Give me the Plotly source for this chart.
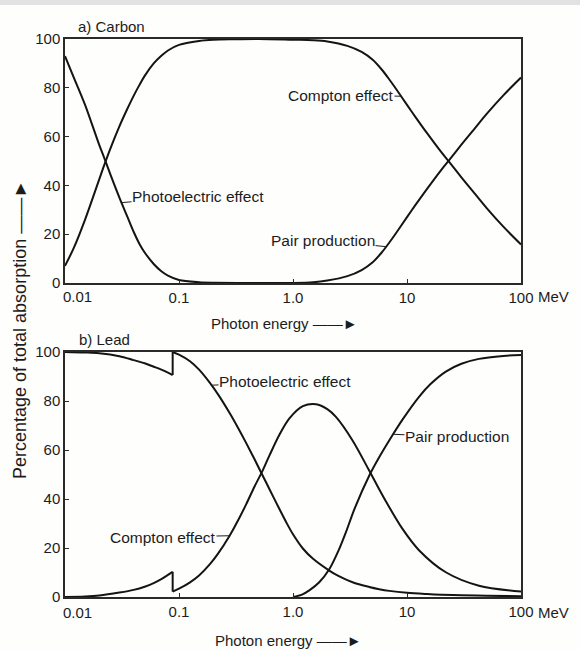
import numpy as np
import plotly.graph_objects as go

# ---------------- data ----------------
# a) Carbon
carbon_photo_E = [0.01, 0.012, 0.015, 0.02, 0.022, 0.025, 0.03, 0.035, 0.04, 0.045,
                  0.05, 0.06, 0.07, 0.08, 0.1, 0.15, 0.2, 0.5, 1.0]
carbon_photo = [93, 84, 73, 56.5, 51.5, 44.5, 35, 27.5, 21, 16, 12.5, 7.8, 4.8, 3.0,
                1.2, 0.3, 0.1, 0, 0]

carbon_compton_E = [0.01, 0.012, 0.015, 0.02, 0.022, 0.025, 0.03, 0.035, 0.04, 0.045,
                    0.05, 0.06, 0.07, 0.08, 0.1, 0.15, 0.2, 0.3, 0.5, 1.0, 1.5, 2,
                    3, 4, 5, 6, 7, 8, 10, 12, 15, 20, 24, 30, 40, 50, 70, 100]
carbon_compton = [7, 14.6, 26, 42.6, 48.1, 55.1, 64.2, 71.1, 76.7, 81.2, 84.9, 90,
                  93.1, 95.3, 97.6, 99.2, 99.7, 99.9, 100, 99.7, 99.5, 99, 97.2, 94.7,
                  91.5, 87.5, 83.4, 79.6, 73, 67.7, 61.4, 53.6, 49, 43.3, 36.2, 30.7,
                  23.1, 15.8]

carbon_pair_E = [1.022, 1.5, 2, 3, 4, 5, 6, 7, 8, 10, 12, 15, 20, 24, 30, 40, 50, 70,
                 100]
carbon_pair = [0, 0.3, 1.0, 2.8, 5.3, 8.5, 12.5, 16.6, 20.4, 27, 32.3, 38.6, 46.4, 51,
               56.7, 63.8, 69.3, 76.9, 84.2]

# b) Lead  (K absorption edge at 0.088 MeV: curves split below / above the edge)
lead_photo_low_E = [0.01, 0.015, 0.02, 0.03, 0.04, 0.05, 0.06, 0.07, 0.08, 0.088]
lead_photo_low = [100, 99.8, 99.5, 98.3, 96.7, 95.4, 94, 92.8, 91.6, 90.6]
lead_photo_high_E = [0.088, 0.1, 0.124, 0.15, 0.186, 0.22, 0.278, 0.33, 0.389, 0.46,
                     0.544, 0.622, 0.76, 0.87, 1.0, 1.22, 1.5, 2.08, 2.5, 3.33, 4.66,
                     5.7, 7, 10, 15, 20, 30, 50, 100]
lead_photo_high = [100, 98.9, 96.3, 92.8, 87.5, 82.7, 75.1, 69, 62.8, 56.2, 49.4, 44,
                   35.9, 30.6, 25.6, 19.8, 15.6, 10.8, 8.6, 6.0, 4.1, 3.2, 2.5, 1.7,
                   1.2, 0.95, 0.74, 0.5, 0.3]

lead_compton_low_E = [0.01, 0.015, 0.02, 0.03, 0.04, 0.05, 0.06, 0.07, 0.08, 0.088]
lead_compton_low = [0, 0.2, 0.6, 1.8, 2.9, 4.2, 5.7, 7.3, 9, 10.3]
lead_compton_high_E = [0.088, 0.1, 0.124, 0.15, 0.186, 0.22, 0.278, 0.33, 0.389,
                       0.46, 0.544, 0.622, 0.76, 0.93, 1.22, 1.59, 2.0, 2.38, 3.33,
                       4.66, 5.7, 6.52, 9.1, 12.8, 21.9, 42.8, 100]
lead_compton_high = [2.2, 3.4, 5.9, 8.8, 13.3, 17.7, 25.0, 31.3, 37.9, 45.1, 51.8,
                     57.8, 66.2, 72.9, 77.9, 78.7, 76.7, 73.5, 63.9, 51.6, 44, 39.1,
                     27.9, 19, 10.1, 4.6, 2.2]

lead_pair_E = [1.0, 1.2, 1.39, 1.7, 2.08, 2.5, 2.92, 3.5, 4.66, 5.7, 7.45, 9.1, 12.8,
               16, 21.9, 30, 42.8, 70, 100]
lead_pair = [0, 1, 2.7, 6, 11.3, 18.8, 26.6, 36.5, 49.5, 57, 66, 72.3, 81.8, 86.8, 92,
             95.2, 97.2, 98.4, 98.8]

tick_vals_x = [0.01, 0.1, 1, 10, 100]
tick_text_x = ["", "0.1", "1.0", "10", "100"]
first_tick_text = "0.01"
tick_vals_y = [0, 20, 40, 60, 80, 100]
tick_text_y = ["0", "20", "40", "60", "80", "100"]

# ---------------- layout geometry (pixels) ----------------
W, H = 580, 650
PL, PR = 65, 521
A_TOP, A_BOT = 39, 283
B_TOP, B_BOT = 352, 597
PW = PR - PL

FONT = "Liberation Sans, Arial, sans-serif"
INK = "#1c1c1c"
BG = "#fefefc"


def px_x(px):
    return (px - PL) / PW


def px_y(py):
    return (H - py) / H


fig = go.Figure()


def add(E, v, xa, ya, shape="spline"):
    fig.add_trace(go.Scatter(x=E, y=v, mode="lines",
                             line=dict(color="#141414", width=2, shape=shape,
                                       smoothing=0.9),
                             xaxis=xa, yaxis=ya, showlegend=False,
                             hoverinfo="skip"))


add(carbon_photo_E, carbon_photo, "x", "y")
add(carbon_compton_E, carbon_compton, "x", "y")
add(carbon_pair_E, carbon_pair, "x", "y")

add(lead_photo_low_E, lead_photo_low, "x2", "y2")
add([lead_photo_low_E[-1], lead_photo_high_E[0]],
    [lead_photo_low[-1], lead_photo_high[0]], "x2", "y2", shape="linear")
add(lead_photo_high_E, lead_photo_high, "x2", "y2")

add(lead_compton_low_E, lead_compton_low, "x2", "y2")
add([lead_compton_low_E[-1], lead_compton_high_E[0]],
    [lead_compton_low[-1], lead_compton_high[0]], "x2", "y2", shape="linear")
add(lead_compton_high_E, lead_compton_high, "x2", "y2")

add(lead_pair_E, lead_pair, "x2", "y2")

axis_common = dict(showline=True, mirror=True, linecolor="#2a2a2a", linewidth=1.5,
                   showgrid=False, zeroline=False, ticks="inside", ticklen=4,
                   tickcolor="#2a2a2a", tickwidth=1.2, automargin=False,
                   tickfont=dict(family=FONT, size=15, color=INK))

xcommon = dict(axis_common, type="log", range=[-2, 2], tickvals=tick_vals_x,
               ticktext=tick_text_x, domain=[0, 1])
ycommon = dict(axis_common, range=[0, 100], tickvals=tick_vals_y,
               ticktext=tick_text_y)

fig.update_layout(
    width=W, height=H,
    margin=dict(l=PL, r=W - PR, t=0, b=0),
    paper_bgcolor=BG, plot_bgcolor=BG,
    xaxis=dict(xcommon, anchor="y"),
    yaxis=dict(ycommon, anchor="x", domain=[px_y(A_BOT), px_y(A_TOP)]),
    xaxis2=dict(xcommon, anchor="y2"),
    yaxis2=dict(ycommon, anchor="x2", domain=[px_y(B_BOT), px_y(B_TOP)]),
)

annotations = []


def text_ann(text, px, py, anchor="left", size=15, angle=0):
    annotations.append(dict(text=text, x=px_x(px), y=px_y(py), xref="paper",
                            yref="paper", showarrow=False, xanchor=anchor,
                            yanchor="middle", textangle=angle,
                            font=dict(family=FONT, size=size, color=INK)))


# panel titles
text_ann("a) Carbon", 76, 26)
text_ann("b) Lead", 77, 340)
# first x tick label (set slightly right of the axis corner, as in the print)
text_ann(first_tick_text, 77, 297, anchor="center")
text_ann(first_tick_text, 77, 612, anchor="center")
# MeV after the 100 tick labels
text_ann("MeV", 536, 297)
text_ann("MeV", 536, 612)
# x axis titles
text_ann("Photon energy \u2014\u2014\u25BA", 284, 323, anchor="center")
text_ann("Photon energy \u2014\u2014\u25BA", 288, 640, anchor="center")
# y axis title
text_ann("Percentage of total absorption \u2014\u2014\u25BA", 20, 330,
         anchor="center", size=18, angle=-90)


def leader(text, E_pt, Es, vs, text_cx, text_cy, xr, yr, top, bot):
    y_pt = float(np.interp(np.log10(E_pt), np.log10(Es), vs))
    px = PL + (np.log10(E_pt) + 2) / 4 * PW
    py = bot - y_pt / 100 * (bot - top)
    annotations.append(dict(text=text, x=np.log10(E_pt), y=y_pt, xref=xr, yref=yr,
                            showarrow=True, arrowhead=0, arrowwidth=1,
                            arrowcolor=INK, standoff=0, ax=text_cx - px,
                            ay=text_cy - py, borderpad=0,
                            font=dict(family=FONT, size=15.5, color=INK)))


leader("Photoelectric effect", 0.0313, carbon_photo_E, carbon_photo, 198, 196,
       "x", "y", A_TOP, A_BOT)
leader("Compton effect", 8.87, carbon_compton_E, carbon_compton, 341, 95,
       "x", "y", A_TOP, A_BOT)
leader("Pair production", 6.56, carbon_pair_E, carbon_pair, 323, 240,
       "x", "y", A_TOP, A_BOT)
leader("Photoelectric effect", 0.193, lead_photo_high_E, lead_photo_high, 285, 382,
       "x2", "y2", B_TOP, B_BOT)
leader("Compton effect", 0.278, lead_compton_high_E, lead_compton_high, 163, 537,
       "x2", "y2", B_TOP, B_BOT)
leader("Pair production", 7.55, lead_pair_E, lead_pair, 457, 437,
       "x2", "y2", B_TOP, B_BOT)

fig.update_layout(annotations=annotations)

# light grey strip along the top edge of the page
fig.add_shape(type="rect", xref="paper", yref="paper", x0=-0.2, x1=1.2,
              y0=1 - 5 / H, y1=1, fillcolor="#e2e2e2", line_width=0, layer="below")

fig.write_html("out.html")
